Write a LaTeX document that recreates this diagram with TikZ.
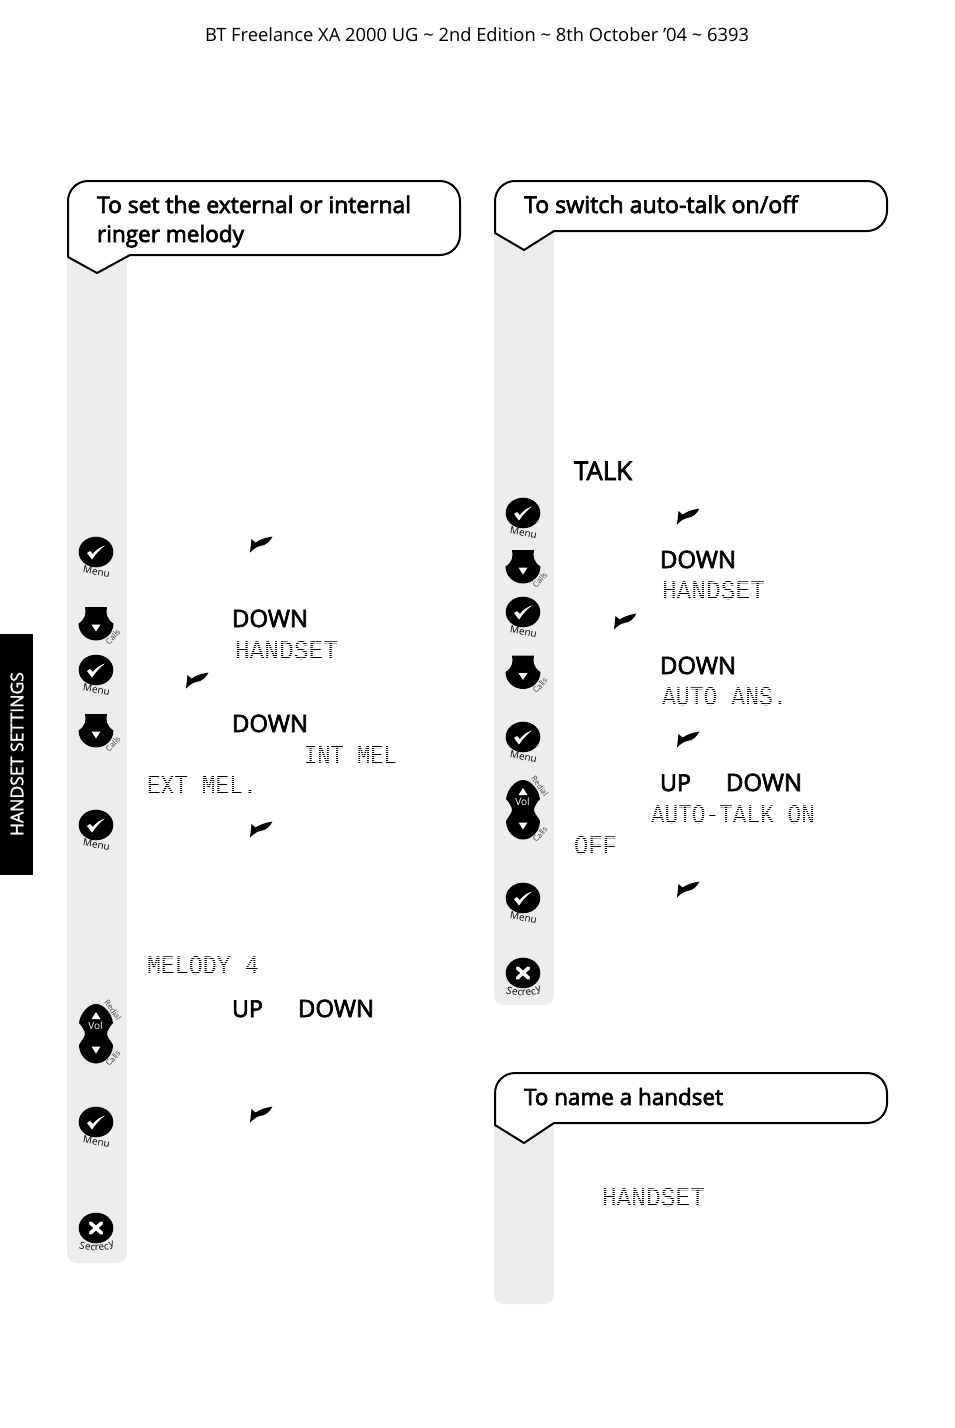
\documentclass[tikz,border=0pt]{standalone}
\usepackage{fontspec}
\usepackage{graphicx}
\setmainfont{Open Sans}
\newfontfamily\bfam[FakeBold=3]{Open Sans}
\newfontfamily\tabfam[FakeBold=1.5]{Open Sans}
\newfontfamily\lcdfam{Liberation Mono}
\definecolor{band}{HTML}{EDEDED}
\definecolor{lcdink}{HTML}{000000}
% \sans{name}{x}{baseline}{width}{text}
\newcommand{\sans}[5]{\node[txt] (#1) at (#2,#3-1) {\resizebox{#4pt}{!}{\fontsize{24}{24}\selectfont\strut\bfam #5}};}
% \lcd{name}{x}{baseline}{width}{text}: thin white rasters give the dot-matrix look of the display font
\newcommand{\lcd}[5]{\node[txt,text=lcdink] (#1) at (#2,#3) {\resizebox{#4pt}{18pt}{\fontsize{24}{24}\lcdfam #5}};
  \foreach \yy in {1,3,...,19} \draw[white,line width=.22pt] (#2-1,#3-\yy) -- (#2+#4+1,#3-\yy);}
\tikzset{
  x=1pt,y=-1pt,
  txt/.style={anchor=base west,inner sep=0pt,outer sep=0pt},
  bubble/.style={draw=black,line width=2pt,fill=white,line join=round},
  small/.style={inner sep=0pt,font=\fontsize{10}{10}\selectfont},
  tiny/.style={inner sep=0pt,text=black!75,font=\fontsize{8}{9}\selectfont},
  menubtn/.pic={
    \fill[black] (0,0) ellipse [x radius=17.3pt,y radius=15.3pt];
    \fill[white] (-9,1) -- (-6,-1) -- (-3.2,2) .. controls (0,-2) and (4,-5) .. (9,-6.5)
       .. controls (3,-2) and (-1,3) .. (-4,7.5) -- cycle;
    \node[small,rotate=-10] at (0.5,19.5) {Menu};
  },
  downbtn/.pic={
    \fill[black] (-11,-16.5) -- (11,-16.5) .. controls (9.5,-10) and (11,-4) .. (17.5,0)
       .. controls (17.5,10) and (9,17) .. (0,17) .. controls (-9,17) and (-17.5,10) .. (-17.5,0)
       .. controls (-11,-4) and (-9.5,-10) .. (-11,-16.5) -- cycle;
    \fill[white] (-4.5,1) -- (4.5,1) -- (0,8) -- cycle;
    \node[tiny,rotate=48] at (17,13.5) {Calls};
  },
  volbtn/.pic={
    \fill[black] (0,-30) .. controls (-8,-30) and (-16,-20) .. (-17,-11)
       .. controls (-14,-8) and (-11,-3) .. (-11,0) .. controls (-11,3) and (-15,7) .. (-17,11)
       .. controls (-17,21) and (-9,29.5) .. (0,29.5) .. controls (9,29.5) and (17,21) .. (17,11)
       .. controls (15,7) and (11,3) .. (11,0) .. controls (11,-3) and (14,-8) .. (17,-11)
       .. controls (16,-20) and (8,-30) .. (0,-30) -- cycle;
    \fill[white] (-4.5,-15) -- (4.5,-15) -- (0,-22) -- cycle;
    \fill[white] (-4.5,12.5) -- (4.5,12.5) -- (0,19.5) -- cycle;
    \node[small,text=white] at (-0.5,-8.5) {Vol};
    \node[tiny,rotate=-55] at (17,-24) {Redial};
    \node[tiny,rotate=48] at (17,24.5) {Calls};
  },
  xbtn/.pic={
    \fill[black] (0,0) ellipse [x radius=17.3pt,y radius=15.3pt];
    \draw[white,line width=3.6pt,line cap=round] (-5.5,-5) -- (5.5,5) (-5.5,5) -- (5.5,-5);
    \foreach \ch/\a in {S/-17,e/-10.5,c/-4.5,r/0,e/5,c/11,y/17}
      \node[small] at ({1+50*sin(\a)},{-30+50*cos(\a)}) [rotate=\a] {\ch};
  }
}
\begin{document}
\begin{tikzpicture}
\useasboundingbox (0,0) rectangle (954,1428);
\fill[white] (0,0) rectangle (954,1428);
% header
\node[txt] (hdr) at (205,41) {\resizebox{544pt}{!}{\fontsize{19}{19}\selectfont BT Freelance XA 2000 UG \char"007E{} 2nd Edition \char"007E{} 8th October ’04 \char"007E{} 6393}};
% tab
\fill[black] (0,634) rectangle (33,875);
\node[anchor=center,inner sep=0pt,rotate=90,text=white] (tab) at (17,754) {\resizebox{164pt}{!}{\fontsize{16}{16}\selectfont\tabfam HANDSET SETTINGS}};
% grey bands
\fill[band] (67,250) -- (127,250) {[rounded corners=10pt] -- (127,1263) -- (67,1263) -- (67,250)} -- cycle;
\fill[band] (494,225) -- (554,225) {[rounded corners=10pt] -- (554,1005) -- (494,1005) -- (494,225)} -- cycle;
\fill[band] (494,1118) -- (554,1118) {[rounded corners=10pt] -- (554,1304) -- (494,1304) -- (494,1118)} -- cycle;
% bubbles
\draw[bubble] (68,257) -- (68,230) {[rounded corners=20pt] -- (68,181) -- (460,181) -- (460,255) -- (300,255)} -- (130,255) -- (97,273) -- cycle;
\draw[bubble] (495,233) -- (495,215) {[rounded corners=20pt] -- (495,181) -- (887,181) -- (887,231) -- (700,231)} -- (554,231) -- (524,250) -- cycle;
\draw[bubble] (495,1125) -- (495,1107) {[rounded corners=20pt] -- (495,1073) -- (887,1073) -- (887,1123) -- (700,1123)} -- (554,1123) -- (524,1143) -- cycle;
\sans{t1}{97}{214}{314}{To set the external or internal}
\sans{t2}{97}{243}{147}{ringer melody}
\sans{t3}{524}{214}{274}{To switch auto-talk on/off}
\sans{t4}{524}{1106}{199}{To name a handset}
% left buttons
\pic at (96,552) {menubtn};
\pic at (96,623.5) {downbtn};
\pic at (96,670) {menubtn};
\pic at (96,730.5) {downbtn};
\pic at (96,825) {menubtn};
\pic at (96,1034) {volbtn};
\pic at (96,1122) {menubtn};
\pic at (96,1228) {xbtn};
% right buttons
\pic at (523,513) {menubtn};
\pic at (523,566.5) {downbtn};
\pic at (523,612) {menubtn};
\pic at (523,672) {downbtn};
\pic at (523,737) {menubtn};
\pic at (523,810) {volbtn};
\pic at (523,898) {menubtn};
\pic at (523,973) {xbtn};
% ticks
\foreach \tx/\ty in {261/544.5,197/680.5,261/829.5,261/1114.5,688/516.5,625/621.5,688/739.5,688/889.5}
  \fill[black] (\tx-11,\ty+8) -- (\tx-9.5,\ty-5.5) -- (\tx-5.5,\ty-2)
     .. controls (\tx-1,\ty-5) and (\tx+5,\ty-7) .. (\tx+11.5,\ty-8)
     .. controls (\tx+9,\ty-3) and (\tx+5,\ty+1) .. (\tx-1,\ty+1.5)
     .. controls (\tx-4,\ty+2) and (\tx-8,\ty+5) .. (\tx-11,\ty+8) -- cycle;
% keywords left
\sans{a1}{232}{628}{76}{DOWN}
\sans{a2}{232}{733}{76}{DOWN}
\sans{a3}{232}{1018}{31}{UP}
\sans{a4}{298}{1018}{76}{DOWN}
% keywords right
\sans{b1}{574}{481}{58}{TALK}
\sans{b2}{660}{569}{76}{DOWN}
\sans{b3}{660}{675}{76}{DOWN}
\sans{b4}{660}{792}{31}{UP}
\sans{b5}{726}{792}{76}{DOWN}
% display text left
\lcd{c1}{235}{659}{103}{HANDSET}
\lcd{c2}{304}{764}{93}{INT MEL}
\lcd{c3}{147}{794}{110}{EXT MEL.}
\lcd{c4}{147}{974}{112}{MELODY 4}
% display text right
\lcd{d1}{662}{599}{103}{HANDSET}
\lcd{d2}{662}{705}{125}{AUTO ANS.}
\lcd{d3}{651}{823}{164}{AUTO-TALK ON}
\lcd{d4}{574}{854}{43}{OFF}
\lcd{d5}{602}{1206}{103}{HANDSET}
\end{tikzpicture}
\end{document}
